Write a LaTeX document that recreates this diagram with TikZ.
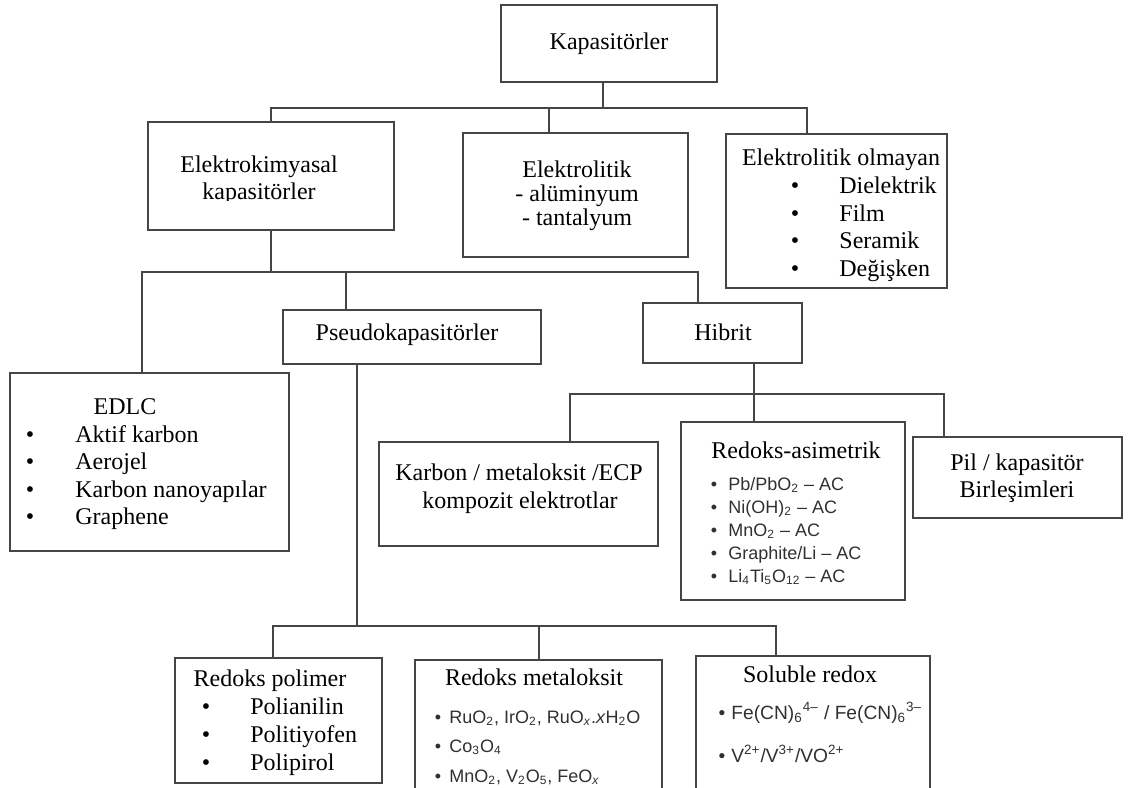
\documentclass[tikz,border=0pt]{standalone}
\usepackage{fontspec}
\setmainfont{Liberation Serif}
\newfontfamily\arial{Liberation Sans}
\usetikzlibrary{fit}
\definecolor{cizgi}{HTML}{454545}
\definecolor{yazi}{HTML}{303030}
\tikzset{
  kutu/.style={draw=cizgi, line width=0.8pt, inner sep=0pt},
  hat/.style={draw=cizgi, line width=0.8pt},
  baslik/.style={inner sep=0pt, anchor=base, font=\fontsize{12}{14}\selectfont},
  madde/.style={inner sep=0pt, anchor=base west, font=\fontsize{12}{14}\selectfont},
  nokta/.style={inner sep=0pt, anchor=base, font=\fontsize{12}{14}\selectfont},
  kimya/.style={inner sep=0pt, anchor=base west, text=yazi, font=\arial\fontsize{9}{10}\selectfont},
  knokta/.style={inner sep=0pt, anchor=base, text=yazi, font=\arial\fontsize{9}{10}\selectfont}
}

\begin{document}
\begin{tikzpicture}[x=0.5pt,y=-0.5pt]
\clip (0,0) rectangle (1128,787);
%draw boxes:
\node[kutu, fit={(501,5) (717,82)}] (kap) {};
\node[kutu, fit={(148,122) (394,230)}] (ekim) {};
\node[kutu, fit={(463,133) (688,257)}] (elit) {};
\node[kutu, fit={(726,134) (947,288)}] (eolm) {};
\node[kutu, fit={(10,373) (289,551)}] (edlc) {};
\node[kutu, fit={(283,310) (541,364)}] (pseudo) {};
\node[kutu, fit={(643,303) (802,363)}] (hib) {};
\node[kutu, fit={(379,442) (658,546)}] (karbon) {};
\node[kutu, fit={(681,422) (905,600)}] (rasim) {};
\node[kutu, fit={(913,437) (1122,518)}] (pil) {};
\node[kutu, fit={(175,658) (382,783)}] (rpol) {};
\node[kutu, fit={(415,660) (662,830)}] (rmet) {};
\node[kutu, fit={(696,656) (930,830)}] (sol) {};
%draw connectors:
\coordinate (b1l) at (271,108);
\coordinate (b1r) at (807,108);
\coordinate (b1m) at (603,108);
\coordinate (b1e) at (549,108);
\draw[hat] (kap.south -| b1m) -- (b1m);
\draw[hat] (b1l |- ekim.north) -- (b1l) -- (b1r) -- (b1r |- eolm.north);
\draw[hat] (b1e) -- (b1e |- elit.north);
\coordinate (b2l) at (142,272);
\coordinate (b2r) at (698,272);
\coordinate (b2e) at (271,272);
\coordinate (b2p) at (346,272);
\draw[hat] (ekim.south -| b2e) -- (b2e);
\draw[hat] (b2l |- edlc.north) -- (b2l) -- (b2r) -- (b2r |- hib.north);
\draw[hat] (b2p) -- (b2p |- pseudo.north);
\coordinate (b3l) at (570,394);
\coordinate (b3r) at (944,394);
\coordinate (b3m) at (754,394);
\draw[hat] (hib.south -| b3m) -- (b3m |- rasim.north);
\draw[hat] (b3l |- karbon.north) -- (b3l) -- (b3r) -- (b3r |- pil.north);
\coordinate (b4l) at (273,626);
\coordinate (b4r) at (776,626);
\coordinate (b4m) at (539,626);
\coordinate (b4p) at (357,626);
\draw[hat] (pseudo.south -| b4p) -- (b4p);
\draw[hat] (b4l |- rpol.north) -- (b4l) -- (b4r) -- (b4r |- sol.north);
\draw[hat] (b4m) -- (b4m |- rmet.north);
%draw labels:
\node[baslik] (kap-t) at (609,49) {Kapasitörler};
\node[baslik] (ekim-t1) at (259,172) {Elektrokimyasal};
\begin{scope}
\clip (148,122) rectangle (394,200.5);
\node[baslik] (ekim-t2) at (259,199) {kapasitörler};
\end{scope}
\node[baslik] (elit-t1) at (577,177) {Elektrolitik};
\node[baslik] (elit-t2) at (577,201) {- alüminyum};
\node[baslik] (elit-t3) at (577,225) {- tantalyum};
\node[baslik] (eolm-t) at (841,165) {Elektrolitik olmayan};
\node[nokta] (eolm-n1) at (795,193) {•};
\node[nokta] (eolm-n2) at (795,221) {•};
\node[nokta] (eolm-n3) at (795,248) {•};
\node[nokta] (eolm-n4) at (795,276) {•};
\node[madde] (eolm-m1) at (839,193) {Dielektrik};
\node[madde] (eolm-m2) at (839,221) {Film};
\node[madde] (eolm-m3) at (839,248) {Seramik};
\node[madde] (eolm-m4) at (839,276) {Değişken};
\node[baslik] (edlc-t) at (125,414) {EDLC};
\node[nokta] (edlc-n1) at (30,442) {•};
\node[nokta] (edlc-n2) at (30,469) {•};
\node[nokta] (edlc-n3) at (30,497) {•};
\node[nokta] (edlc-n4) at (30,524) {•};
\node[madde] (edlc-m1) at (75,442) {Aktif karbon};
\node[madde] (edlc-m2) at (75,469) {Aerojel};
\node[madde] (edlc-m3) at (75,497) {Karbon nanoyapılar};
\node[madde] (edlc-m4) at (75,524) {Graphene};
\node[baslik] (pseudo-t) at (407,340) {Pseudokapasitörler};
\node[baslik] (hib-t) at (723,340) {Hibrit};
\node[baslik] (karbon-t1) at (519,480) {Karbon / metaloksit /ECP};
\node[baslik] (karbon-t2) at (520,508) {kompozit elektrotlar};
\node[baslik] (rasim-t) at (796,458) {Redoks-asimetrik};
\node[knokta] (rasim-n1) at (714,490) {•};
\node[knokta] (rasim-n2) at (714,513) {•};
\node[knokta] (rasim-n3) at (714,536) {•};
\node[knokta] (rasim-n4) at (714,559) {•};
\node[knokta] (rasim-n5) at (714,582) {•};
\node[kimya] (rasim-m1) at (728,490) {Pb/PbO\textsubscript{2} – AC};
\node[kimya] (rasim-m2) at (728,513) {Ni(OH)\textsubscript{2} – AC};
\node[kimya] (rasim-m3) at (728,536) {MnO\textsubscript{2} – AC};
\node[kimya] (rasim-m4) at (728,559) {Graphite/Li – AC};
\node[kimya] (rasim-m5) at (728,582) {Li\textsubscript{4}Ti\textsubscript{5}O\textsubscript{12} – AC};
\node[baslik] (pil-t1) at (1017,470) {Pil / kapasitör};
\node[baslik] (pil-t2) at (1017,497) {Birleşimleri};
\node[baslik] (rpol-t) at (270,686) {Redoks polimer};
\node[nokta] (rpol-n1) at (206,714) {•};
\node[nokta] (rpol-n2) at (206,742) {•};
\node[nokta] (rpol-n3) at (206,770) {•};
\node[madde] (rpol-m1) at (250,714) {Polianilin};
\node[madde] (rpol-m2) at (250,742) {Politiyofen};
\node[madde] (rpol-m3) at (250,770) {Polipirol};
\node[baslik] (rmet-t) at (534,685) {Redoks metaloksit};
\node[knokta] (rmet-n1) at (438,723) {•};
\node[knokta] (rmet-n2) at (438,752) {•};
\node[knokta] (rmet-n3) at (438,782) {•};
\node[kimya] (rmet-m1) at (449,723) {RuO\textsubscript{2}, IrO\textsubscript{2}, RuO\textsubscript{\textit{x}}.\textit{x}H\textsubscript{2}O};
\node[kimya] (rmet-m2) at (449,752) {Co\textsubscript{3}O\textsubscript{4}};
\node[kimya] (rmet-m3) at (449,782) {MnO\textsubscript{2}, V\textsubscript{2}O\textsubscript{5}, FeO\textsubscript{\textit{x}}};
\node[baslik] (sol-t) at (810,682) {Soluble redox};
\node[knokta, font=\arial\fontsize{9.6}{11}\selectfont] (sol-n1) at (722,719) {•};
\node[knokta, font=\arial\fontsize{9.6}{11}\selectfont] (sol-n2) at (722,762) {•};
\node[kimya, font=\arial\fontsize{9.6}{11}\selectfont] (sol-m1) at (731,719) {Fe(CN)\textsubscript{6}\textsuperscript{4–} / Fe(CN)\textsubscript{6}\textsuperscript{3–}};
\node[kimya, font=\arial\fontsize{9.6}{11}\selectfont] (sol-m2) at (731,762) {V\textsuperscript{2+}/V\textsuperscript{3+}/VO\textsuperscript{2+}};
\end{tikzpicture}
\end{document}
